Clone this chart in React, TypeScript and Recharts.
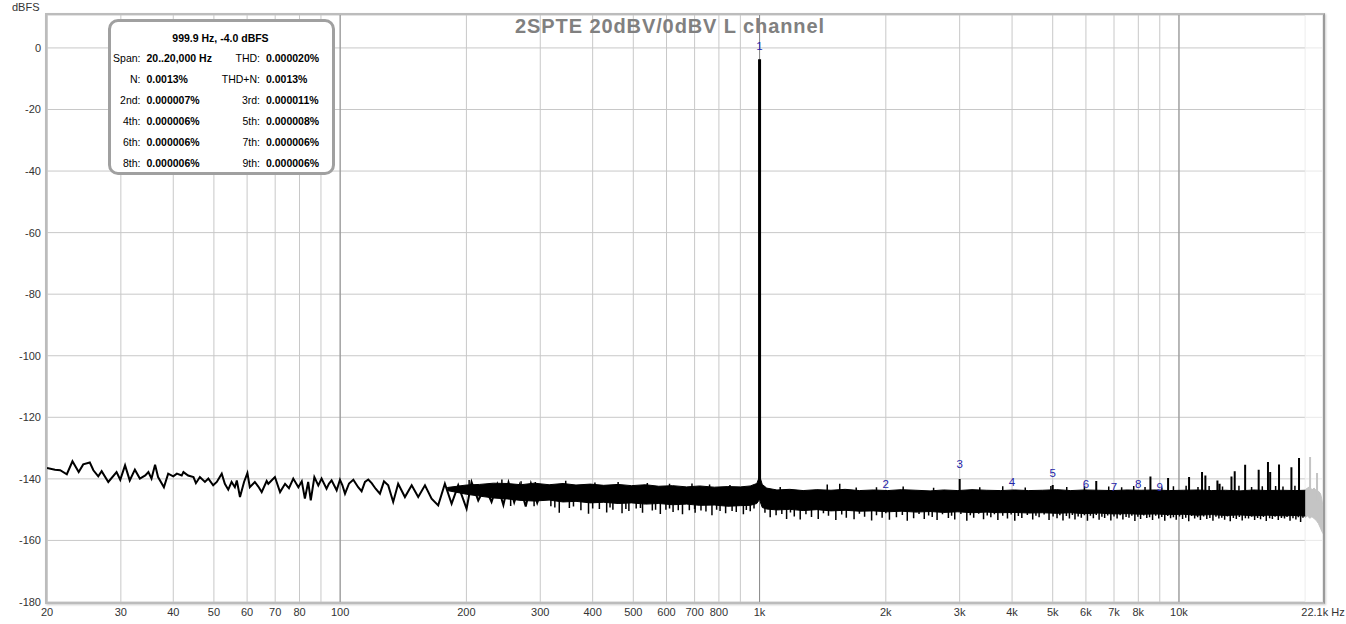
import React from 'react';
import {
  ComposedChart,
  Line,
  Area,
  Scatter,
  XAxis,
  YAxis,
  CartesianGrid,
  ReferenceArea,
} from 'recharts';

// x axis (log, Hz)
const xTicks = [20, 30, 40, 50, 60, 70, 80, 90, 100, 200, 300, 400, 500, 600, 700, 800, 900, 1000, 2000, 3000, 4000, 5000, 6000, 7000, 8000, 9000, 10000, 22050];
const xTickLabels: Record<number, string> = {
  20: '20', 30: '30', 40: '40', 50: '50', 60: '60', 70: '70', 80: '80', 100: '100',
  200: '200', 300: '300', 400: '400', 500: '500', 600: '600', 700: '700', 800: '800',
  1000: '1k', 2000: '2k', 3000: '3k', 4000: '4k', 5000: '5k', 6000: '6k', 7000: '7k', 8000: '8k',
  10000: '10k', 22050: '22.1k Hz',
};
const decadeTicks = [100, 1000, 10000];
const spanEndTicks = [20000];
const yTicks = [-180, -160, -140, -120, -100, -80, -60, -40, -20, 0];

// low frequency part of the noise floor (single trace)
const lfFreq = [
  20, 20.9, 21.5, 22.3, 23.0, 23.8, 24.4, 25.3, 25.8, 26.5,
  27.0, 28.0, 29.3, 29.9, 30.7, 31.5, 32.4, 33.3, 34.3, 34.9,
  35.5, 36.2, 36.8, 38.0, 38.9, 40.0, 40.8, 41.9, 42.3, 43.4,
  44.7, 45.3, 46.3, 47.6, 48.5, 49.8, 50.8, 52.2, 53.1, 54.1,
  55.1, 56.1, 56.7, 57.7, 59.0, 60.1, 60.9, 62.6, 63.8, 65.0,
  66.8, 67.4, 69.9, 71.9, 73.9, 75.5, 77.3, 79.5, 81.0, 82.4,
  83.9, 85.1, 86.8, 88.7, 90.3, 92.8, 94.0, 95.4, 98.1, 99.9,
  101.2, 102.7, 105.0, 107.5, 110.4, 112.5, 114.6, 116.7, 118.9, 121.5,
  124.4, 127.2, 130.2, 133.8, 137.5, 142.7, 148.1, 153.5, 159.3, 165.2,
  171.3, 177.7, 184.4, 191.2, 200.2, 205.7, 213.4, 221.4, 229.6, 237,
  245, 252, 260, 268, 277, 285, 295, 305,
];
const lfDb = [
  -136.5, -137.0, -137.2, -138.5, -134.3, -137.8, -135.3, -134.7, -137.2, -139.2,
  -137.5, -141.0, -137.8, -140.3, -135.6, -140.5, -137.0, -139.9, -138.9, -137.8,
  -139.9, -135.4, -139.4, -142.7, -138.3, -139.2, -138.3, -138.9, -137.8, -138.9,
  -139.4, -141.4, -139.4, -141.0, -139.9, -142.1, -141.0, -138.3, -141.6, -143.5,
  -141.0, -142.7, -140.5, -145.9, -141.0, -138.1, -142.7, -141.0, -142.5, -144.3,
  -140.7, -141.6, -139.4, -144.3, -141.6, -143.0, -139.9, -142.7, -140.8, -146.4,
  -141.0, -147.0, -139.4, -142.1, -139.9, -143.2, -141.6, -140.5, -143.7, -140.3,
  -142.0, -144.8, -141.5, -140.3, -142.7, -144.0, -141.0, -140.2, -141.4, -143.2,
  -144.8, -140.8, -142.1, -147.5, -141.6, -145.9, -142.1, -145.9, -142.1, -146.4,
  -148.6, -141.6, -148.1, -142.1, -149.7, -141.0, -147.0, -142.7, -147.5, -141.8,
  -148.5, -141.2, -147.6, -142.0, -149.0, -141.5, -147.8, -142.2,
];

// solid core of the noise band: frequency, upper and lower edge (dBFS)
const bandFreq = [
  180, 190, 200, 215, 232, 250, 270,
  290, 315, 340, 365, 395, 425, 460, 495, 535, 575,
  620, 670, 720, 780, 840, 900, 950, 985, 996, 1000,
  1004, 1015, 1040, 1100, 1180, 1270, 1370, 1480, 1600, 1730,
  1870, 2020, 2180, 2360, 2550, 2750, 2970, 3210, 3470, 3750,
  4050, 4380, 4730, 5110, 5520, 5960, 6440, 6960, 7520, 8120,
  8770, 9480, 10240, 11060, 11950, 12910, 13950, 15070, 16280, 17590,
  19000, 20000,
];
const bandTop = [
  -142.8, -142.4, -142.0, -141.8, -141.4, -141.5, -141.9,
  -141.4, -141.9, -141.5, -142.0, -141.7, -142.1, -141.8, -142.2, -141.9, -142.4,
  -142.2, -142.6, -142.3, -142.7, -142.5, -142.6, -142.3, -141.5, -139.8, -138.8,
  -139.8, -141.8, -143.0, -143.6, -143.4, -143.8, -143.5, -143.7, -143.4, -143.8,
  -143.6, -143.8, -143.5, -143.7, -143.9, -143.6, -143.8, -143.5, -143.7, -143.8,
  -143.6, -143.8, -143.7, -143.5, -143.8, -143.6, -143.7, -143.8, -143.6, -143.7,
  -143.6, -143.8, -143.7, -143.6, -143.8, -143.7, -143.9, -143.6, -143.8, -143.7,
  -143.8, -143.7,
];
const bandBot = [
  -143.8, -144.4, -145.0, -145.6, -146.2, -146.5, -147.0,
  -147.2, -146.9, -147.5, -147.3, -147.8, -147.6, -148.0, -147.8, -148.2, -148.0,
  -148.4, -148.2, -148.6, -148.5, -148.9, -148.7, -148.6, -148.0, -147.0, -146.5,
  -147.5, -149.3, -149.8, -150.1, -149.9, -150.3, -150.0, -150.4, -150.2, -150.5,
  -150.4, -150.7, -150.5, -150.8, -150.6, -150.9, -150.7, -151.0, -150.8, -151.0,
  -150.9, -151.1, -151.0, -151.2, -151.0, -151.3, -151.1, -151.4, -151.3, -151.5,
  -151.4, -151.6, -151.5, -151.8, -151.6, -151.9, -151.7, -152.0, -151.8, -152.0,
  -151.9, -152.1,
];

// deeper downward excursions of the floor
const dipFreq = [
  318, 333, 352, 375, 391, 415, 432, 447, 470, 488,
  508, 526, 555, 580, 598, 622, 655, 680, 702, 745,
  770, 805, 830, 880, 915, 950, 1060, 1095, 1160, 1210,
  1250, 1330, 1380, 1460, 1520, 1610, 1680, 1780, 1850, 1960,
  2040, 2120, 2250, 2330, 2470, 2580, 2650, 2820, 2920, 3120,
  3240, 3420, 3560, 3700, 3900, 4060, 4220, 4480, 4640, 4900,
  5120, 5290, 5480, 5650, 5850, 6050, 6250, 6450, 6650, 6880,
  7120, 7350, 7600, 7850, 8100, 8380, 8650, 8950, 9250, 9550,
  9850, 10200, 10550, 10900, 11250, 11650, 12050, 12450, 12850, 13250,
  13700, 14150, 14650, 15150, 15650, 16150, 16700, 17250, 17850, 18400,
  19000, 19500,
];
const dipDb = [
  -148.9, -151.0, -149.5, -150.2, -151.3, -149.8, -150.9, -150.0, -151.2, -150.4,
  -149.6, -151.0, -150.3, -151.4, -150.0, -150.8, -151.5, -150.2, -151.0, -150.6,
  -151.8, -150.4, -151.2, -150.8, -151.5, -150.5, -152.5, -151.8, -153.0, -152.2,
  -153.2, -152.4, -153.0, -152.0, -153.4, -152.6, -153.1, -152.3, -153.5, -152.6,
  -153.3, -152.5, -153.6, -152.8, -153.0, -152.4, -153.4, -152.7, -153.2, -153.6,
  -152.6, -153.1, -152.5, -153.4, -152.9, -153.6, -152.7, -153.2, -152.5, -153.4,
  -152.8, -153.5, -152.9, -153.2, -152.6, -153.6, -152.8, -153.3, -152.7, -153.5,
  -152.9, -153.2, -152.6, -153.7, -153.0, -152.7, -153.4, -152.9, -153.6, -152.8,
  -153.3, -153.0, -153.8, -152.9, -153.4, -153.0, -153.6, -152.9, -153.3, -153.8,
  -153.0, -153.5, -152.9, -153.4, -153.1, -153.7, -153.0, -153.4, -152.9, -153.6,
  -153.2, -154.0,
];

// shorter downward excursions between the deep ones
const nickFreq = [
  255, 290, 325, 360, 400, 440, 480, 520, 565, 610,
  640, 700, 725, 790, 860, 930, 970, 1030, 1130, 1185,
  1290, 1420, 1570, 1730, 1900, 2000, 2190, 2400, 2530, 2730,
  2870, 3020, 3180, 3330, 3490, 3630, 3800, 3980, 4140, 4350,
  4560, 4770, 5010, 5200, 5390, 5570, 5750, 5950, 6150, 6350,
  6550, 6760, 7000, 7240, 7480, 7720, 7980, 8240, 8510, 8800,
  9100, 9400, 9700, 10030, 10380, 10720, 11080, 11450, 11850, 12250,
  12650, 13050, 13480, 13930, 14400, 14900, 15400, 15900, 16450, 16950,
  17550, 18100, 18700, 19250, 19750,
];
const nickDb = [
  -148.8, -148.9, -149.3, -149.0, -149.6, -149.3, -149.8, -149.5, -150.0, -149.6,
  -150.2, -149.8, -150.3, -150.0, -150.4, -150.1, -149.6, -151.0, -151.4, -150.9,
  -151.5, -151.2, -151.6, -151.3, -151.8, -151.2, -151.7, -151.4, -151.9, -151.5,
  -152.0, -151.4, -151.8, -151.3, -151.9, -151.5, -152.0, -151.6, -152.1, -151.7,
  -152.0, -151.6, -152.2, -151.8, -152.1, -151.7, -152.2, -151.8, -152.0, -151.7,
  -152.3, -151.9, -152.2, -151.8, -152.4, -152.0, -152.3, -151.9, -152.5, -152.0,
  -152.4, -152.1, -152.5, -152.2, -152.6, -152.1, -152.5, -152.2, -152.7, -152.3,
  -152.6, -152.2, -152.7, -152.4, -152.8, -152.3, -152.7, -152.4, -152.8, -152.3,
  -152.7, -152.4, -152.8, -152.5, -152.6,
];

// small upward excursions of the floor
const bumpFreq = [
  203, 243, 270, 292, 345, 405, 460, 540,
  610, 690, 760, 850, 1120, 1450, 1553, 1700, 1900, 2200,
  2600, 3350, 3800, 4300, 4950, 5400, 5950, 6800, 7300, 7800,
  8300, 9100, 9700, 10400, 11100, 11800, 12700, 13900, 14900, 15800,
  17000, 17700, 18900,
];
const bumpDb = [
  -140.4, -140.2, -140.8, -141.0, -140.6, -141.2, -141.0, -141.3,
  -141.6, -141.5, -141.8, -142.0, -142.6, -141.8, -141.6, -142.8, -142.7, -142.5,
  -142.9, -142.7, -142.4, -142.8, -142.3, -142.6, -142.4, -142.5, -142.7, -142.3,
  -142.6, -142.8, -142.4, -142.2, -142.6, -142.3, -142.5, -142.2, -142.6, -142.4,
  -142.3, -142.5, -142.2,
];

// out-of-span part (grey), 20 kHz .. Nyquist
const greyFreq = [20000, 20250, 20500, 20750, 21000, 21250, 21500, 21750, 21900, 22050];
const greyTop = [-143.5, -143.0, -142.5, -143.6, -143.0, -143.8, -144.0, -144.8, -146.5, -149.0];
const greyBot = [-152.6, -152.0, -152.8, -152.3, -152.9, -153.5, -154.5, -156.0, -157.0, -157.8];
const greySpikeFreq = [20540, 21340];
const greySpikeTop = [-132.9, -138.1];

// spurs above the floor
const spikeFreq = [3000, 5000, 6350, 8550, 9420, 10570, 11350, 11560, 12350, 12500, 13340, 13580, 14380, 15490, 16300, 16500, 17320, 18540, 19330];
const spikeTop = [-140.0, -142.0, -140.7, -139.2, -139.7, -139.4, -137.8, -138.9, -140.5, -141.6, -139.2, -137.5, -135.4, -137.0, -134.5, -137.8, -135.3, -136.2, -133.2];

// fundamental
const fundFreq = 1000;
const fundTop = -3.7;

// harmonic markers
const harmNum = ['1', '2', '3', '4', '5', '6', '7', '8', '9'];
const harmFreq = [1000, 2000, 3000, 4000, 5000, 6000, 7000, 8000, 9000];
const harmLabelDb = [0.6, -141.7, -135.2, -140.9, -138.2, -141.7, -142.8, -141.7, -142.8];

const sticks = (freqs: number[], tips: number[], base: number) =>
  freqs.flatMap((f, i) => [
    { f, v: base },
    { f, v: tips[i] },
    { f, v: null },
  ]);

const lfData = lfFreq.map((f, i) => ({ f, v: lfDb[i] }));
const bandData = bandFreq.map((f, i) => ({ f, r: [bandBot[i], bandTop[i]] }));
const greyData = greyFreq.map((f, i) => ({ f, r: [greyBot[i], greyTop[i]] }));
const dipData = sticks(dipFreq, dipDb, -146);
const nickData = sticks(nickFreq, nickDb, -146);
const bumpData = sticks(bumpFreq, bumpDb, -144);
const spikeData = sticks(spikeFreq, spikeTop, -147);
const greySpikeData = sticks(greySpikeFreq, greySpikeTop, -147);
const fundData = [
  { f: fundFreq, v: -142 },
  { f: fundFreq, v: fundTop },
];
const harmData = harmFreq.map((f, i) => ({ f, v: harmLabelDb[i], n: harmNum[i] }));

const infoRows = [
  ['Span:', '20..20,000 Hz', 'THD:', '0.000020%'],
  ['N:', '0.0013%', 'THD+N:', '0.0013%'],
  ['2nd:', '0.000007%', '3rd:', '0.000011%'],
  ['4th:', '0.000006%', '5th:', '0.000008%'],
  ['6th:', '0.000006%', '7th:', '0.000006%'],
  ['8th:', '0.000006%', '9th:', '0.000006%'],
];

const font = '"Liberation Sans", Arial, sans-serif';

const HarmLabel = (props: any) => {
  const { cx, cy, payload } = props;
  return (
    <text x={cx} y={cy} textAnchor="middle" dominantBaseline="central" fontSize={11.5} fill="#2424a8" fontFamily={font}>
      {payload.n}
    </text>
  );
};

function InfoBox() {
  const rowTop = [52, 73, 94, 115, 136, 157];
  const base = { position: 'absolute' as const, fontSize: 10.5, lineHeight: '12px', whiteSpace: 'nowrap' as const };
  return (
    <div
      style={{
        position: 'absolute',
        left: 108,
        top: 19,
        width: 227,
        height: 156,
        boxSizing: 'border-box',
        border: '3px solid #a0a0a0',
        borderRadius: 10,
        background: '#fff',
      }}
    >
      <div style={{ ...base, left: 0, width: 219, top: 10, textAlign: 'center', fontWeight: 'bold' }}>
        999.9 Hz, -4.0 dBFS
      </div>
      {infoRows.map((r, i) => (
        <React.Fragment key={i}>
          <div style={{ ...base, right: 227 - 3 - (143.5 - 111), top: rowTop[i] - 22 }}>{r[0]}</div>
          <div style={{ ...base, left: 146.5 - 111, top: rowTop[i] - 22, fontWeight: 'bold' }}>{r[1]}</div>
          <div style={{ ...base, right: 227 - 3 - (263 - 111), top: rowTop[i] - 22 }}>{r[2]}</div>
          <div style={{ ...base, left: 266 - 111, top: rowTop[i] - 22, fontWeight: 'bold' }}>{r[3]}</div>
        </React.Fragment>
      ))}
    </div>
  );
}

const axisCommon = {
  dataKey: 'f',
  type: 'number' as const,
  scale: 'log' as const,
  domain: [20, 22050],
  allowDataOverflow: true,
};

const stick = { type: 'linear' as const, stroke: '#000', dot: false, activeDot: false, isAnimationActive: false };

export default function App() {
  return (
    <div style={{ position: 'absolute', left: 0, top: 0, width: 1346, height: 624, background: '#fff', fontFamily: font, color: '#000' }}>
      <ComposedChart width={1346} height={624} margin={{ top: 15, right: 23, bottom: 0, left: 0 }}>
        <CartesianGrid stroke="#c8c8c8" strokeWidth={1} />
        <CartesianGrid xAxisId="dec" horizontal={false} stroke="#8c8c8c" strokeWidth={1} />
        <CartesianGrid xAxisId="end" horizontal={false} stroke="#e4e4e4" strokeWidth={1} />
        <ReferenceArea x1={20000} x2={22050} y1={-180} y2={10.7} fill="#ffffff" fillOpacity={0.6} stroke="none" ifOverflow="hidden" />
        <XAxis
          {...axisCommon}
          ticks={xTicks}
          interval={0}
          tickFormatter={(v: number) => xTickLabels[v] ?? ''}
          height={22}
          tickLine={false}
          axisLine={false}
          tickSize={4}
          tickMargin={2}
          tick={{ fontSize: 11, fill: '#333', fontFamily: font }}
        />
        <XAxis {...axisCommon} xAxisId="dec" ticks={decadeTicks} hide />
        <XAxis {...axisCommon} xAxisId="end" ticks={spanEndTicks} hide />
        <YAxis
          type="number"
          domain={[-180, 10.7]}
          allowDataOverflow
          ticks={yTicks}
          interval={0}
          width={47}
          tickLine={false}
          axisLine={false}
          tickSize={4}
          tickMargin={2}
          tick={{ fontSize: 11, fill: '#333', fontFamily: font }}
        />
        <Area data={greyData} dataKey="r" type="linear" stroke="#c4c4c4" strokeWidth={1} fill="#c4c4c4" fillOpacity={1} isAnimationActive={false} dot={false} activeDot={false} />
        <Line data={greySpikeData} dataKey="v" {...stick} stroke="#c4c4c4" strokeWidth={2} />
        <Area data={bandData} dataKey="r" type="linear" stroke="#000" strokeWidth={1} fill="#000" fillOpacity={1} isAnimationActive={false} dot={false} activeDot={false} />
        <Line data={dipData} dataKey="v" {...stick} strokeWidth={1.5} />
        <Line data={nickData} dataKey="v" {...stick} strokeWidth={1.5} />
        <Line data={bumpData} dataKey="v" {...stick} strokeWidth={1.5} />
        <Line data={lfData} dataKey="v" {...stick} strokeWidth={2} />
        <Line data={spikeData} dataKey="v" {...stick} strokeWidth={2} />
        <Line data={fundData} dataKey="v" {...stick} strokeWidth={3} />
        <Scatter data={harmData} dataKey="v" shape={HarmLabel} isAnimationActive={false} />
      </ComposedChart>

      {/* plot frame */}
      <div
        style={{
          position: 'absolute',
          left: 45,
          top: 13,
          width: 1280,
          height: 591,
          boxSizing: 'border-box',
          border: '2px solid #bcbcbc',
          borderRightColor: '#9a9a9a',
          boxShadow: '1px 1px 2px rgba(0,0,0,0.2)',
          pointerEvents: 'none',
        }}
      />

      <div style={{ position: 'absolute', left: 12, top: 1, fontSize: 11, lineHeight: '12px', color: '#333' }}>dBFS</div>

      <div
        style={{
          position: 'absolute',
          left: 420,
          width: 500,
          top: 16,
          textAlign: 'center',
          fontSize: 20,
          lineHeight: '20px',
          fontWeight: 'bold',
          letterSpacing: 0.9,
          color: '#808080',
        }}
      >
        2SPTE 20dBV/0dBV L channel
      </div>

      <InfoBox />
    </div>
  );
}
